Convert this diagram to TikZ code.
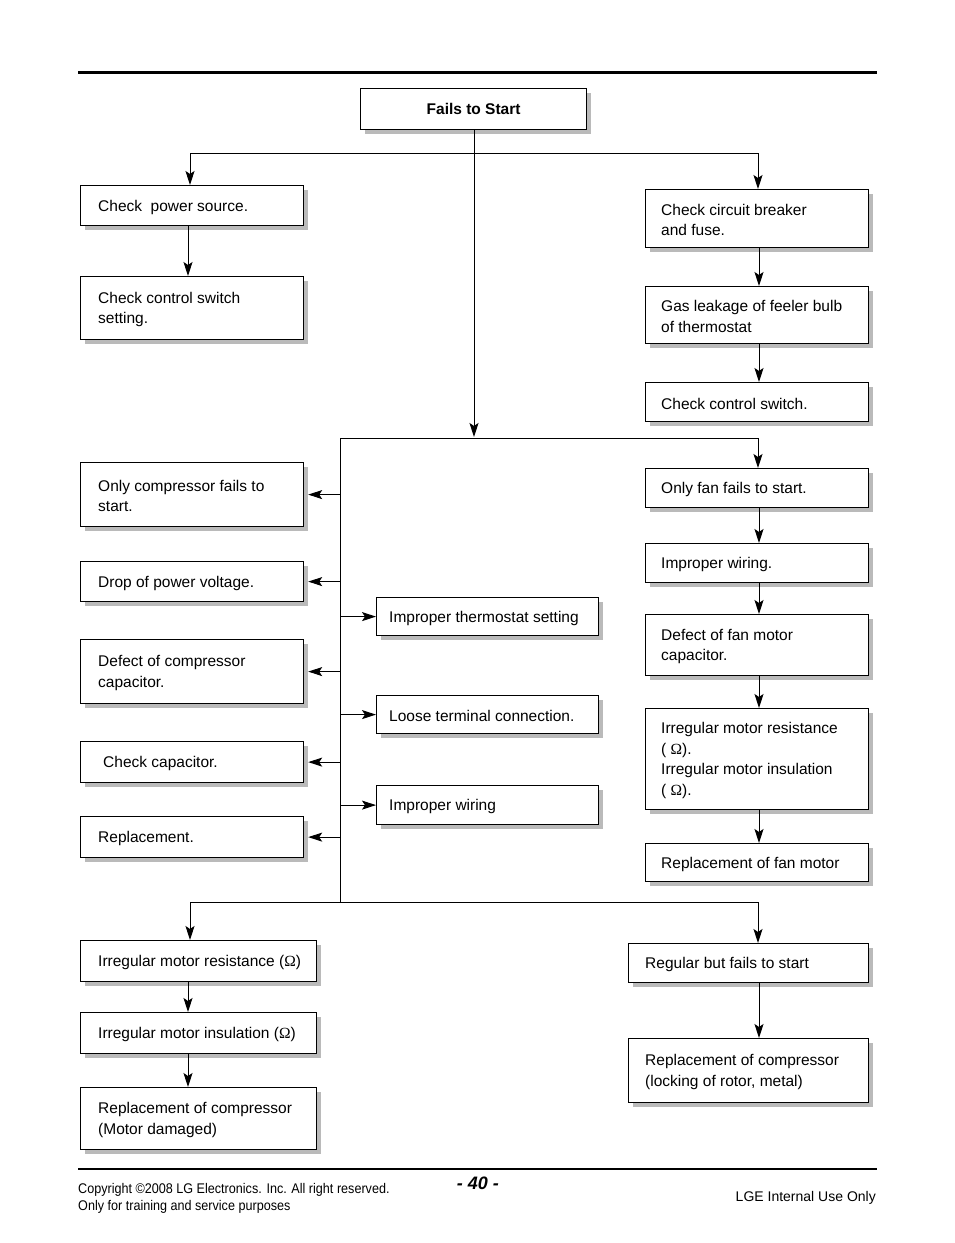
\documentclass[tikz,border=0pt]{standalone}
\usepackage{fontspec}
\setmainfont{Liberation Sans}
\newfontfamily\narrowfont[FakeStretch=0.9]{Liberation Sans}
\newfontfamily\omegafont{Liberation Serif}
\usetikzlibrary{arrows.meta,shadows}
\newcommand\ohm{{\omegafont Ω}}
\tikzset{
  box/.style={draw, line width=1.2pt, fill=white, anchor=north west, inner sep=0pt,
    drop shadow={shadow xshift=4pt, shadow yshift=-4pt, fill=black!27, opacity=1}},
  txt/.style={anchor=west, align=left, inner sep=0pt, yshift=-1.5pt, font=\fontsize{15.5}{20.5}\selectfont},
  conn/.style={line width=1pt},
  arr/.style={line width=1pt, -{Stealth[length=14pt,width=9pt,inset=3pt]}},
  foot/.style={inner sep=0pt, font=\narrowfont\fontsize{14}{17}\selectfont, align=left}
}
\begin{document}
\begin{tikzpicture}[x=1pt,y=-1pt]
\useasboundingbox (0,0) rectangle (954,1243);
\fill[white] (0,0) rectangle (954,1243);
% rules
\draw[line width=3pt] (78,72) -- (877,72);
\draw[line width=2pt] (78,1169) -- (877,1169);
% column references
\coordinate (cL) at (188,0);
\coordinate (cR) at (759,0);
\coordinate (tr) at (340,0);
% boxes
\node[box, minimum width=226pt, minimum height=41pt, font=\bfseries\fontsize{15.5}{18}\selectfont] (b1) at (360,88) {Fails to Start};
\node[box, minimum width=223pt, minimum height=40pt] (b2) at (80,185) {};
\node[box, minimum width=223pt, minimum height=63pt] (b3) at (80,276) {};
\node[box, minimum width=223pt, minimum height=58pt] (b4) at (645,189) {};
\node[box, minimum width=223pt, minimum height=57pt] (b5) at (645,286) {};
\node[box, minimum width=223pt, minimum height=39pt] (b6) at (645,382) {};
\node[box, minimum width=223pt, minimum height=64pt] (b7) at (80,462) {};
\node[box, minimum width=223pt, minimum height=40pt] (b8) at (80,561) {};
\node[box, minimum width=223pt, minimum height=64pt] (b9) at (80,639) {};
\node[box, minimum width=223pt, minimum height=41pt] (b10) at (80,741) {};
\node[box, minimum width=223pt, minimum height=41pt] (b11) at (80,816) {};
\node[box, minimum width=222pt, minimum height=38pt] (b12) at (376,597) {};
\node[box, minimum width=222pt, minimum height=38pt] (b13) at (376,695) {};
\node[box, minimum width=222pt, minimum height=39pt] (b14) at (376,785) {};
\node[box, minimum width=223pt, minimum height=39pt] (b15) at (645,468) {};
\node[box, minimum width=223pt, minimum height=39pt] (b16) at (645,543) {};
\node[box, minimum width=223pt, minimum height=61pt] (b17) at (645,614) {};
\node[box, minimum width=223pt, minimum height=101pt] (b18) at (645,708) {};
\node[box, minimum width=223pt, minimum height=38pt] (b19) at (645,843) {};
\node[box, minimum width=236pt, minimum height=41pt] (b20) at (80,940) {};
\node[box, minimum width=236pt, minimum height=41pt] (b21) at (80,1012) {};
\node[box, minimum width=236pt, minimum height=62pt] (b22) at (80,1087) {};
\node[box, minimum width=240pt, minimum height=39pt] (b23) at (628,943) {};
\node[box, minimum width=240pt, minimum height=64pt] (b24) at (628,1038) {};
% texts
\node[txt] (t2) at ([xshift=18pt]b2.west) {Check~~power source.};
\node[txt] (t3) at ([xshift=18pt]b3.west) {Check control switch\\setting.};
\node[txt] (t4) at ([xshift=16pt]b4.west) {Check circuit breaker\\and fuse.};
\node[txt] (t5) at ([xshift=16pt]b5.west) {Gas leakage of feeler bulb\\of thermostat};
\node[txt] (t6) at ([xshift=16pt]b6.west) {Check control switch.};
\node[txt] (t7) at ([xshift=18pt]b7.west) {Only compressor fails to\\start.};
\node[txt] (t8) at ([xshift=18pt]b8.west) {Drop of power voltage.};
\node[txt] (t9) at ([xshift=18pt]b9.west) {Defect of compressor\\capacitor.};
\node[txt] (t10) at ([xshift=23pt]b10.west) {Check capacitor.};
\node[txt] (t11) at ([xshift=18pt]b11.west) {Replacement.};
\node[txt] (t12) at ([xshift=13pt]b12.west) {Improper thermostat setting};
\node[txt] (t13) at ([xshift=13pt]b13.west) {Loose terminal connection.};
\node[txt] (t14) at ([xshift=13pt]b14.west) {Improper wiring};
\node[txt] (t15) at ([xshift=16pt]b15.west) {Only fan fails to start.};
\node[txt] (t16) at ([xshift=16pt]b16.west) {Improper wiring.};
\node[txt] (t17) at ([xshift=16pt]b17.west) {Defect of fan motor\\capacitor.};
\node[txt] (t18) at ([xshift=16pt]b18.west) {Irregular motor resistance\\( \ohm).\\Irregular motor insulation\\( \ohm).};
\node[txt] (t19) at ([xshift=16pt]b19.west) {Replacement of fan motor};
\node[txt] (t20) at ([xshift=18pt]b20.west) {Irregular motor resistance (\ohm)};
\node[txt] (t21) at ([xshift=18pt]b21.west) {Irregular motor insulation (\ohm)};
\node[txt] (t22) at ([xshift=18pt]b22.west) {Replacement of compressor\\(Motor damaged)};
\node[txt] (t23) at ([xshift=17pt]b23.west) {Regular but fails to start};
\node[txt] (t24) at ([xshift=17pt]b24.west) {Replacement of compressor\\(locking of rotor, metal)};
% top junction
\coordinate (jm) at (474,153);
\coordinate (jl) at (190,153);
\coordinate (jr) at (758,153);
\coordinate (m) at (474,437);
\draw[conn] (jl) -- (jr);
\draw[arr] (b1.south -| jm) -- (m);
\draw[arr] (jl) -- (jl |- b2.north);
\draw[arr] (jr) -- (jr |- b4.north);
\draw[arr] (b2.south -| cL) -- (b3.north -| cL);
\draw[arr] (b4.south -| cR) -- (b5.north -| cR);
\draw[arr] (b5.south -| cR) -- (b6.north -| cR);
% middle trunk
\coordinate (h1l) at (340,438);
\coordinate (h1r) at (758,438);
\coordinate (h2l) at (190,902);
\coordinate (h2r) at (758,902);
\coordinate (h2m) at (340,902);
\draw[conn] (h1l) -- (h1r);
\draw[conn] (h1l) -- (h2m);
\draw[conn] (h2l) -- (h2r);
\draw[arr] (h1r) -- (h1r |- b15.north);
\draw[arr] (tr |- b7.east) -- ([xshift=4pt]b7.east);
\draw[arr] (tr |- b8.east) -- ([xshift=4pt]b8.east);
\draw[arr] (tr |- b9.east) -- ([xshift=4pt]b9.east);
\draw[arr] (tr |- b10.east) -- ([xshift=4pt]b10.east);
\draw[arr] (tr |- b11.east) -- ([xshift=4pt]b11.east);
\draw[arr] (tr |- b12.west) -- (b12.west);
\draw[arr] (tr |- b13.west) -- (b13.west);
\draw[arr] (tr |- b14.west) -- (b14.west);
\draw[arr] (b15.south -| cR) -- (b16.north -| cR);
\draw[arr] (b16.south -| cR) -- (b17.north -| cR);
\draw[arr] (b17.south -| cR) -- (b18.north -| cR);
\draw[arr] (b18.south -| cR) -- (b19.north -| cR);
% bottom
\draw[arr] (h2l) -- (h2l |- b20.north);
\draw[arr] (h2r) -- (h2r |- b23.north);
\draw[arr] (b20.south -| cL) -- (b21.north -| cL);
\draw[arr] (b21.south -| cL) -- (b22.north -| cL);
\draw[arr] (b23.south -| cR) -- (b24.north -| cR);
% footer
\node[foot, anchor=north west] (f1) at (78,1183) {Copyright \textcopyright2008 LG Electronics. Inc. All right reserved.\\Only for training and service purposes};
\node[inner sep=0pt, font=\bfseries\itshape\fontsize{18}{20}\selectfont] (f2) at (478,1183) {- 40 -};
\node[inner sep=0pt, anchor=east, font=\fontsize{14}{17}\selectfont] (f3) at (876,1198) {LGE Internal Use Only};
\end{tikzpicture}
\end{document}
